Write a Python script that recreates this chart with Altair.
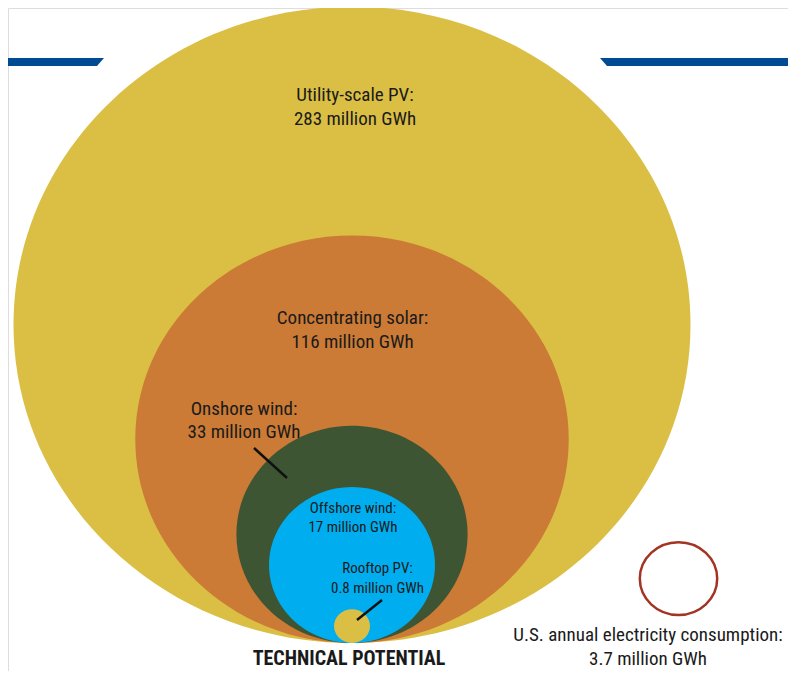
import altair as alt
import pandas as pd

# ---- data ----
categories = ["Utility-scale PV", "Concentrating solar", "Onshore wind", "Offshore wind", "Rooftop PV"]
values = [283, 116, 33, 17, 0.8]          # million GWh technical potential
colors = ["#DBBF45", "#CB7B35", "#3D5533", "#00AEEF", "#DBBF45"]
consumption_label = "U.S. annual electricity consumption"
consumption_value = 3.7                    # million GWh
footer = "TECHNICAL POTENTIAL"

# ---- layout (page pixel anchors) ----
main_anchor = (352, 643)        # bottom-centre of the nested circles
cons_anchor = (678.5, 615)      # bottom-centre of the consumption circle
label_pos = {                   # x centre, first-line baseline, font size, line height
    "Utility-scale PV": (355, 101, 19, 24),
    "Concentrating solar": (352.5, 324, 19, 24),
    "Onshore wind": (244, 415, 19, 23),
    "Offshore wind": (353, 513, 15, 19),
    "Rooftop PV": (377.5, 573, 15, 20),
    consumption_label: (648, 641, 19, 24),
}
leaders = [("Onshore wind", 254, 448, 287, 478), ("Rooftop PV", 382, 600, 357, 620)]
bar_pts = [("L", 0, 58, 66), ("L", 97, 58, 66), ("L", 104, 58, 58),
           ("R", 600, 58, 58), ("R", 607, 58, 66), ("R", 796, 58, 66)]

FONT = "Roboto Condensed, Noto Sans Condensed, Roboto, sans-serif"
W, H = 780, 663
ELLIPSE = "M 0 0 A 1 0.94 0 1 1 0 -1.88 A 1 0.94 0 1 1 0 0 Z"   # bottom-anchored ellipse

xs = alt.Scale(domain=[8, 8 + W], range=[0, W])
ys = alt.Scale(domain=[8, 8 + H], range=[0, H])
size_scale = alt.Scale(type="linear", domain=[0, max(values)], range=[0, 677 ** 2], zero=True)

def fmt(v):
    return f"{v:g}"

circles = pd.DataFrame({
    "category": categories,
    "value": values,
    "x": [main_anchor[0]] * len(categories),
    "y": [main_anchor[1]] * len(categories),
    "rank": list(range(len(categories))),
})
cons = pd.DataFrame({"category": [consumption_label], "value": [consumption_value],
                     "x": [cons_anchor[0]], "y": [cons_anchor[1]]})

labels = pd.DataFrame([
    {"text": f"{c}:\n{fmt(v)} million GWh", "x": label_pos[c][0], "y": label_pos[c][1],
     "fs": label_pos[c][2], "lh": label_pos[c][3]}
    for c, v in list(zip(categories, values)) + [(consumption_label, consumption_value)]
])
lead = pd.DataFrame([{"k": k, "x": x1, "y": y1, "x2": x2, "y2": y2} for k, x1, y1, x2, y2 in leaders])
bars = pd.DataFrame(bar_pts, columns=["bar", "x", "y", "y2"])
foot = pd.DataFrame({"text": [footer], "x": [349], "y": [665]})

bar_layer = alt.Chart(bars).mark_area(color="#004C93", opacity=1).encode(
    x=alt.X("x:Q", scale=xs, axis=None),
    y=alt.Y("y:Q", scale=ys, axis=None),
    y2="y2:Q",
    detail="bar:N",
)

circle_layer = alt.Chart(circles).mark_point(
    shape=ELLIPSE, filled=True, opacity=1, strokeWidth=0
).encode(
    x=alt.X("x:Q", scale=xs, axis=None),
    y=alt.Y("y:Q", scale=ys, axis=None),
    size=alt.Size("value:Q", scale=size_scale, legend=None),
    color=alt.Color("category:N", scale=alt.Scale(domain=categories, range=colors), legend=None),
    order=alt.Order("rank:Q"),
)

cons_layer = alt.Chart(cons).mark_point(
    shape=ELLIPSE, filled=False, fill="white", fillOpacity=1, stroke="#A33322",
    strokeWidth=2.5, opacity=1
).encode(
    x=alt.X("x:Q", scale=xs, axis=None),
    y=alt.Y("y:Q", scale=ys, axis=None),
    size=alt.Size("value:Q", scale=size_scale, legend=None),
)

lead_layer = alt.Chart(lead).mark_rule(color="#111111", strokeWidth=2.5).encode(
    x=alt.X("x:Q", scale=xs, axis=None),
    y=alt.Y("y:Q", scale=ys, axis=None),
    x2="x2:Q", y2="y2:Q",
)

label_layers = []
for fs, lh in sorted(set(zip(labels["fs"], labels["lh"]))):
    sub = labels[(labels["fs"] == fs) & (labels["lh"] == lh)]
    label_layers.append(
        alt.Chart(sub).mark_text(
            font=FONT, fontSize=int(fs), lineHeight=int(lh), lineBreak="\n",
            align="center", baseline="alphabetic", color="#1a1a1a"
        ).encode(
            x=alt.X("x:Q", scale=xs, axis=None),
            y=alt.Y("y:Q", scale=ys, axis=None),
            text="text:N",
        )
    )

foot_layer = alt.Chart(foot).mark_text(
    font=FONT, fontSize=20, fontWeight="bold", align="center", baseline="alphabetic", color="#1a1a1a"
).encode(
    x=alt.X("x:Q", scale=xs, axis=None),
    y=alt.Y("y:Q", scale=ys, axis=None),
    text="text:N",
)

chart = alt.layer(
    bar_layer, circle_layer, cons_layer, lead_layer, *label_layers, foot_layer
).properties(
    width=W, height=H, padding=0, autosize=alt.AutoSizeParams(type="none")
).configure_view(stroke=None, clip=False).configure(background="white")

chart.save("out.html", embed_options={"renderer": "svg", "actions": False})
